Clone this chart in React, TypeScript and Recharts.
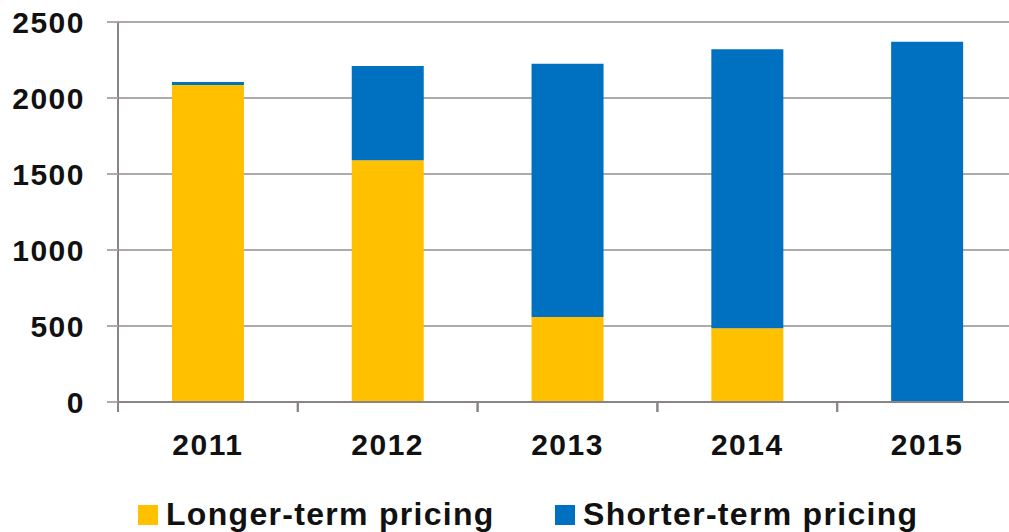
import { BarChart, Bar, XAxis, YAxis, CartesianGrid, Legend } from 'recharts'

const years = ['2011', '2012', '2013', '2014', '2015']
const longerTerm = [2085, 1590, 560, 485, 0]
const shorterTerm = [20, 620, 1665, 1835, 2370]
const yTicks = [0, 500, 1000, 1500, 2000, 2500]

const data = years.map((year, i) => ({
  year,
  longer: longerTerm[i],
  shorter: shorterTerm[i],
}))

const FONT = '"Liberation Sans", Arial, sans-serif'
const YELLOW = '#FFC000'
const BLUE = '#0070C0'
const HALF_BAND = 89.9

// eslint-disable-next-line @typescript-eslint/no-explicit-any
function YearTick({ x, y, payload }: any) {
  return (
    <g>
      <line x1={x - HALF_BAND} y1={y} x2={x - HALF_BAND} y2={y + 10} stroke="#8a8584" strokeWidth={2} />
      <line x1={x + HALF_BAND} y1={y} x2={x + HALF_BAND} y2={y + 10} stroke="#8a8584" strokeWidth={2} />
      <text
        x={x}
        y={y + 53}
        textAnchor="middle"
        fontFamily={FONT}
        fontWeight="bold"
        fontSize={30}
        letterSpacing={1.5}
        fill="#111"
      >
        {payload.value}
      </text>
    </g>
  )
}

function LegendContent() {
  const item = (color: string, label: string, left: number) => (
    <div style={{ position: 'absolute', left, top: 0, height: 50 }}>
      <span
        style={{ position: 'absolute', left: 0, top: 23, width: 20, height: 20, background: color }}
      />
      <span
        style={{
          position: 'absolute',
          left: 28,
          top: 16,
          whiteSpace: 'nowrap',
          fontFamily: FONT,
          fontWeight: 'bold',
          fontSize: 32,
          letterSpacing: 1.3,
          color: '#111',
          lineHeight: '32px',
        }}
      >
        {label}
      </span>
    </div>
  )
  return (
    <div style={{ position: 'relative', width: 1009, height: 50 }}>
      {item(YELLOW, 'Longer-term pricing', 138)}
      {item(BLUE, 'Shorter-term pricing', 555)}
    </div>
  )
}

export default function App() {
  return (
    <div
      style={{
        position: 'fixed',
        top: 0,
        left: 0,
        width: 1009,
        height: 532,
        overflow: 'hidden',
        background: '#fff',
      }}
    >
      <BarChart
        width={1030}
        height={532}
        data={data}
        margin={{ top: 22, right: 13, bottom: 0, left: 0 }}
        barCategoryGap="30%"
      >
        <CartesianGrid vertical={false} stroke="#b0aaa8" strokeWidth={2} />
        <XAxis
          dataKey="year"
          height={80}
          tickLine={false}
          tickSize={0}
          tickMargin={0}
          axisLine={{ stroke: '#8a8584', strokeWidth: 2 }}
          tick={<YearTick />}
        />
        <YAxis
          width={118}
          domain={[0, 2500]}
          ticks={yTicks}
          interval={0}
          tickSize={11}
          tickMargin={22}
          tickLine={{ stroke: '#b0aaa8', strokeWidth: 2 }}
          axisLine={{ stroke: '#8a8584', strokeWidth: 2 }}
          tick={{ fontFamily: FONT, fontWeight: 'bold', fontSize: 30, fill: '#111', letterSpacing: 1.5 }}
        />
        <Legend
          verticalAlign="bottom"
          height={50}
          wrapperStyle={{ left: 0, bottom: 0, width: 1009, height: 50 }}
          content={<LegendContent />}
        />
        <Bar dataKey="longer" stackId="a" fill={YELLOW} name="Longer-term pricing" isAnimationActive={false} />
        <Bar dataKey="shorter" stackId="a" fill={BLUE} name="Shorter-term pricing" isAnimationActive={false} />
      </BarChart>
    </div>
  )
}
